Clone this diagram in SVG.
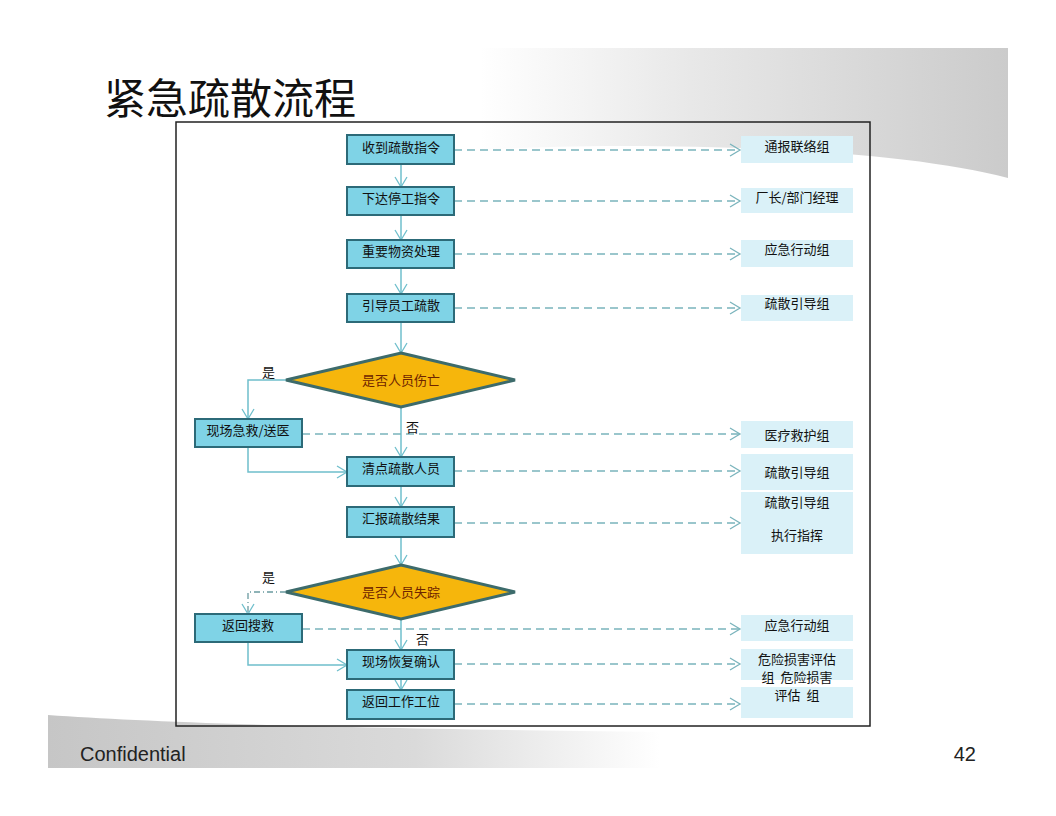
<svg xmlns="http://www.w3.org/2000/svg" width="1056" height="816" viewBox="0 0 1056 816">
<defs>
<linearGradient id="gTop" x1="480" y1="0" x2="1008" y2="0" gradientUnits="userSpaceOnUse">
<stop offset="0" stop-color="#ffffff"/>
<stop offset="0.4" stop-color="#e8e8e8"/>
<stop offset="1" stop-color="#cbcbcb"/>
</linearGradient>
<linearGradient id="gBot" x1="48" y1="0" x2="660" y2="0" gradientUnits="userSpaceOnUse">
<stop offset="0" stop-color="#c6c6c6"/>
<stop offset="0.6" stop-color="#dadada"/>
<stop offset="1" stop-color="#ffffff"/>
</linearGradient>
<marker id="arr" markerUnits="userSpaceOnUse" markerWidth="14" markerHeight="14" viewBox="0 0 14 14" refX="12" refY="7" orient="auto">
<path d="M2,1 L12,7 L2,13" fill="none" stroke="#6fbfcc" stroke-width="1.3"/>
</marker>
<marker id="arrd" markerUnits="userSpaceOnUse" markerWidth="14" markerHeight="14" viewBox="0 0 14 14" refX="12" refY="7" orient="auto">
<path d="M2,1 L12,7 L2,13" fill="none" stroke="#7ab4bc" stroke-width="1.3"/>
</marker>
</defs>
<style>
.box{fill:#7fd3e6;stroke:#2c6a78;stroke-width:2}
.rbox{fill:#daf1f8}
.dia{fill:#f6b60c;stroke:#3d6b6b;stroke-width:3}
.t{font-family:"Noto Sans CJK SC","Noto Sans",sans-serif;font-size:13px;fill:#111;text-anchor:middle}
.td{font-family:"Noto Sans CJK SC","Noto Sans",sans-serif;font-size:13px;fill:#6e2400;text-anchor:middle}
.lbl{font-family:"Noto Sans CJK SC","Noto Sans",sans-serif;font-size:13px;fill:#111}
.solid{fill:none;stroke:#6fbfcc;stroke-width:1.5;marker-end:url(#arr)}
.dash{fill:none;stroke:#7ab4bc;stroke-width:1.3;stroke-dasharray:8 5;marker-end:url(#arrd)}
.dashdot{fill:none;stroke:#6a9aa0;stroke-width:1.3;stroke-dasharray:6 3 1 3;marker-end:url(#arr)}
</style>
<rect width="1056" height="816" fill="#ffffff"/>
<path d="M480 48 H1008 V178 C930 158 800 146 620 146 C560 146 520 148 480 150 Z" fill="url(#gTop)"/>
<path d="M48 715 C150 722 300 728 660 732 V768 H48 Z" fill="url(#gBot)"/>
<text x="104" y="114" font-family="Noto Sans CJK SC,sans-serif" font-size="42" fill="#111">紧急疏散流程</text>
<rect x="176" y="122" width="694" height="604" fill="none" stroke="#222" stroke-width="1.5"/>
<g id="connectors">
<line class="solid" x1="401" y1="164" x2="401" y2="187"/>
<line class="solid" x1="401" y1="215" x2="401" y2="240"/>
<line class="solid" x1="401" y1="268" x2="401" y2="294"/>
<line class="solid" x1="401" y1="322" x2="401" y2="353"/>
<line class="solid" x1="401" y1="407" x2="401" y2="457"/>
<line class="solid" x1="401" y1="486" x2="401" y2="507"/>
<line class="solid" x1="401" y1="537" x2="401" y2="565"/>
<line class="solid" x1="401" y1="619" x2="401" y2="650"/>
<line class="solid" x1="401" y1="679" x2="401" y2="690"/>
<polyline class="solid" points="286,380 248,380 248,419"/>
<polyline class="solid" points="248,447 248,472 347,472"/>
<polyline class="dashdot" points="286,592 248,592 248,614"/>
<polyline class="solid" points="248,642 248,665 347,665"/>
<line class="dash" x1="454" y1="150" x2="740" y2="150"/>
<line class="dash" x1="454" y1="201" x2="740" y2="201"/>
<line class="dash" x1="454" y1="254" x2="740" y2="254"/>
<line class="dash" x1="454" y1="308" x2="740" y2="308"/>
<line class="dash" x1="302" y1="434" x2="740" y2="434"/>
<line class="dash" x1="454" y1="471" x2="740" y2="471"/>
<line class="dash" x1="454" y1="523" x2="740" y2="523"/>
<line class="dash" x1="302" y1="629" x2="740" y2="629"/>
<line class="dash" x1="454" y1="664" x2="740" y2="664"/>
<line class="dash" x1="454" y1="704" x2="740" y2="704"/>
</g>
<g id="n1"><rect class="box" x="347" y="135" width="107" height="29"/><text class="t" x="401" y="152">收到疏散指令</text></g>
<g id="n2"><rect class="box" x="347" y="187" width="107" height="28"/><text class="t" x="401" y="203">下达停工指令</text></g>
<g id="n3"><rect class="box" x="347" y="240" width="107" height="28"/><text class="t" x="401" y="256">重要物资处理</text></g>
<g id="n4"><rect class="box" x="347" y="294" width="107" height="28"/><text class="t" x="401" y="310">引导员工疏散</text></g>
<g id="d1"><polygon class="dia" points="401,353 515,380 401,407 286,380"/><text class="td" x="401" y="385">是否人员伤亡</text></g>
<g id="n5"><rect class="box" x="195" y="419" width="107" height="28"/><text class="t" x="248" y="435">现场急救/送医</text></g>
<g id="n6"><rect class="box" x="347" y="457" width="107" height="29"/><text class="t" x="401" y="473">清点疏散人员</text></g>
<g id="n7"><rect class="box" x="347" y="507" width="107" height="30"/><text class="t" x="401" y="523">汇报疏散结果</text></g>
<g id="d2"><polygon class="dia" points="401,565 515,592 401,619 286,592"/><text class="td" x="401" y="597">是否人员失踪</text></g>
<g id="n8"><rect class="box" x="195" y="614" width="107" height="28"/><text class="t" x="248" y="630">返回搜救</text></g>
<g id="n9"><rect class="box" x="347" y="650" width="107" height="29"/><text class="t" x="401" y="666">现场恢复确认</text></g>
<g id="n10"><rect class="box" x="347" y="690" width="107" height="29"/><text class="t" x="401" y="706">返回工作工位</text></g>
<g id="labels">
<text class="lbl" x="262" y="377">是</text>
<text class="lbl" x="406" y="432">否</text>
<text class="lbl" x="262" y="582">是</text>
<text class="lbl" x="416" y="644">否</text>
</g>
<g id="r1"><rect class="rbox" x="741" y="136" width="112" height="27"/><text class="t" x="797" y="151">通报联络组</text></g>
<g id="r2"><rect class="rbox" x="741" y="188" width="112" height="25"/><text class="t" x="797" y="202">厂长/部门经理</text></g>
<g id="r3"><rect class="rbox" x="741" y="240" width="112" height="27"/><text class="t" x="797" y="254">应急行动组</text></g>
<g id="r4"><rect class="rbox" x="741" y="295" width="112" height="26"/><text class="t" x="797" y="308">疏散引导组</text></g>
<g id="r5"><rect class="rbox" x="741" y="421" width="112" height="27"/><text class="t" x="797" y="440">医疗救护组</text></g>
<g id="r6"><rect class="rbox" x="741" y="454" width="112" height="36"/><text class="t" x="797" y="477">疏散引导组</text></g>
<g id="r7"><rect class="rbox" x="741" y="492" width="112" height="62"/><text class="t" x="797" y="507">疏散引导组</text><text class="t" x="797" y="540">执行指挥</text></g>
<g id="r8"><rect class="rbox" x="741" y="615" width="112" height="26"/><text class="t" x="797" y="630">应急行动组</text></g>
<g id="r9"><rect class="rbox" x="741" y="649" width="112" height="31"/><text class="t" x="797" y="664">危险损害评估</text><text class="t" x="797" y="682">组&#160;&#160;危险损害</text></g>
<g id="r10"><rect class="rbox" x="741" y="687" width="112" height="31"/><text class="t" x="797" y="700">评估&#160;&#160;组</text></g>
<text x="80" y="761" font-family="Liberation Sans,Arial,sans-serif" font-size="20" fill="#222">Confidential</text>
<text x="976" y="761" font-family="Liberation Sans,Arial,sans-serif" font-size="20" fill="#222" text-anchor="end">42</text>
</svg>
